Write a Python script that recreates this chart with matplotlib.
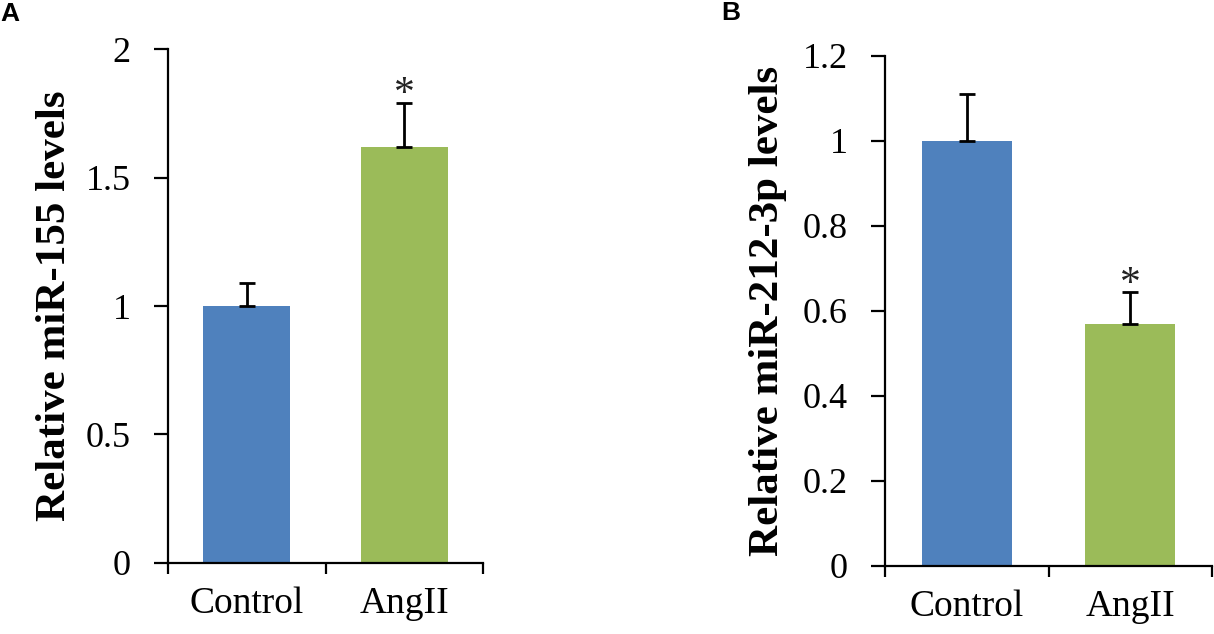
import matplotlib
matplotlib.use('Agg')
import matplotlib.pyplot as plt

groups = ['Control', 'AngII']
colors = ['#4F81BD', '#9BBB59']

# panel A : miR-155
a_vals = [1.0, 1.62]
a_err = [0.09, 0.17]
a_ticks = [0, 0.5, 1, 1.5, 2]
a_ticklabels = ['0', '0.5', '1', '1.5', '2']

# panel B : miR-212-3p
b_vals = [1.0, 0.57]
b_err = [0.11, 0.075]
b_ticks = [0, 0.2, 0.4, 0.6, 0.8, 1.0, 1.2]
b_ticklabels = ['0', '0.2', '0.4', '0.6', '0.8', '1', '1.2']

serif = 'Liberation Serif'

fig = plt.figure(figsize=(12.14, 6.34), dpi=100)
axA = fig.add_axes([0.1384, 0.112, 0.2595, 0.8107])
axB = fig.add_axes([0.729, 0.1073, 0.2694, 0.8044])


def draw(ax, vals, err, ticks, ticklabels, ylabel, star_gap, label_x):
    x = list(range(len(groups)))
    ax.bar(x, vals, width=0.55, color=colors, zorder=2)
    ax.errorbar(x, vals, yerr=[[0] * len(err), err], fmt='none', ecolor='black',
                elinewidth=2, capsize=6, capthick=2, zorder=3)
    # significance star over AngII
    ax.annotate('*', xy=(1, vals[1] + err[1] + star_gap), xytext=(0, -16),
                textcoords='offset points', ha='center', va='baseline',
                fontsize=30, family=serif, color='#222222')
    ax.set_xlim(-0.5, 1.5)
    ax.set_ylim(0, ticks[-1])
    ax.set_yticks(ticks)
    ax.set_yticklabels(ticklabels, family=serif, fontsize=26)
    ax.set_xticks(x)
    ax.set_xticklabels(groups, family=serif, fontsize=27)
    ax.set_xticks([-0.5, 0.5, 1.5], minor=True)
    ax.tick_params(axis='x', which='major', length=0, pad=17)
    ax.tick_params(axis='x', which='minor', length=8, width=1.6, direction='out')
    ax.tick_params(axis='y', length=10, width=1.6, direction='out', pad=17)
    for s in ['top', 'right']:
        ax.spines[s].set_visible(False)
    for s in ['left', 'bottom']:
        ax.spines[s].set_linewidth(1.6)
    ax.set_ylabel(ylabel, family=serif, fontsize=31, fontweight='bold', va='center')
    ax.yaxis.set_label_coords(label_x, 0.5)


draw(axA, a_vals, a_err, a_ticks, a_ticklabels, 'Relative miR-155 levels', 0.08, -0.36)
draw(axB, b_vals, b_err, b_ticks, b_ticklabels, 'Relative miR-212-3p levels', 0.045, -0.357)

fig.text(0.0, 0.978, 'A', fontsize=19, fontweight='bold', family='Liberation Sans', va='center')
fig.text(0.594, 0.979, 'B', fontsize=19, fontweight='bold', family='Liberation Sans', va='center')

fig.savefig('out.png', dpi=100)
